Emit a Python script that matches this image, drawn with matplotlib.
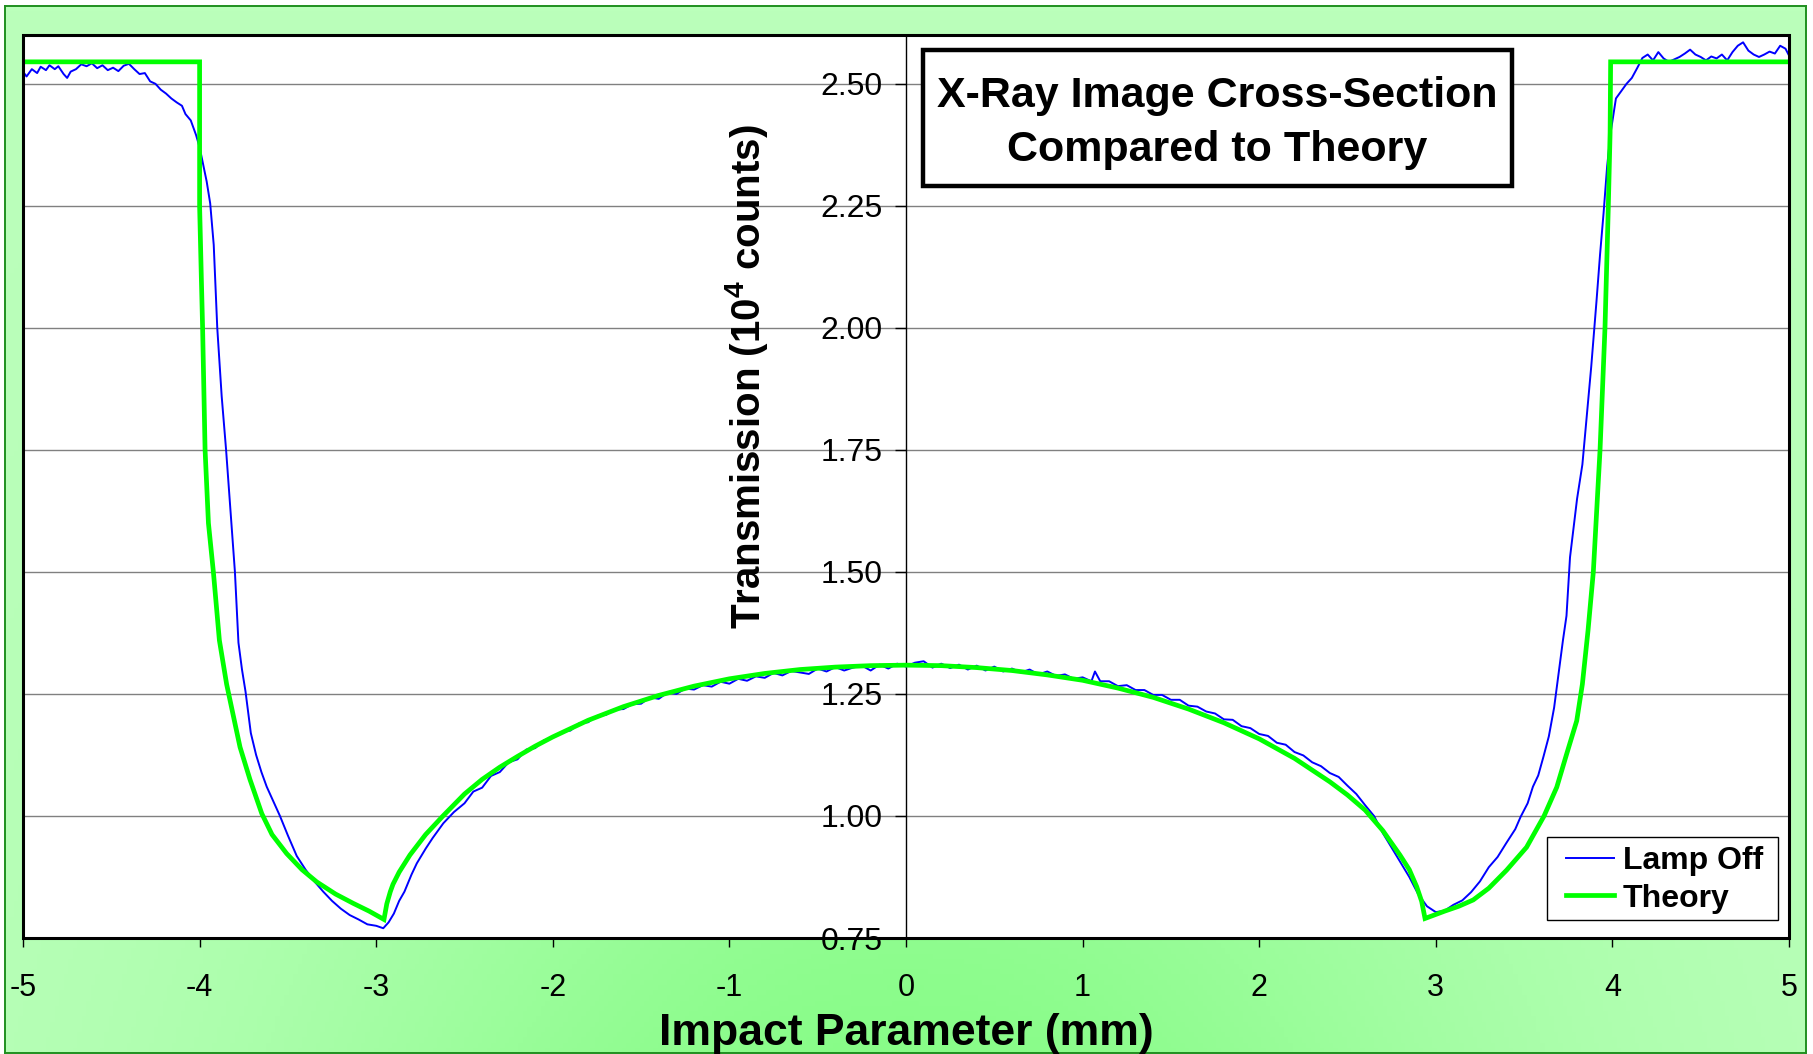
import numpy as np
import matplotlib
matplotlib.use("Agg")
import matplotlib.pyplot as plt
from matplotlib import font_manager
from matplotlib.font_manager import FontProperties
from matplotlib.patches import Rectangle

# --- data (mm, 10^4 counts) ---
lamp_x = [
    -5.00, -4.98, -4.95, -4.92, -4.90, -4.87, -4.85, -4.82, -4.80, -4.77,
    -4.75, -4.73, -4.70, -4.67, -4.64, -4.61, -4.58, -4.55, -4.52, -4.49,
    -4.46, -4.43, -4.40, -4.37, -4.34, -4.31, -4.28, -4.25, -4.22, -4.19,
    -4.16, -4.13, -4.10, -4.08, -4.05, -4.02, -4.00, -3.98, -3.96, -3.94,
    -3.92, -3.90, -3.875, -3.85, -3.82, -3.80, -3.78, -3.76, -3.74, -3.71,
    -3.68, -3.65, -3.62, -3.58, -3.545, -3.50, -3.45, -3.40, -3.35, -3.30,
    -3.25, -3.20, -3.15, -3.10, -3.05, -3.00, -2.96, -2.93, -2.90, -2.87,
    -2.84, -2.80, -2.77, -2.72, -2.68, -2.62, -2.56, -2.50, -2.45, -2.40,
    -2.35, -2.30, -2.25, -2.20, -2.15, -2.10, -2.05, -2.00, -1.95, -1.90,
    -1.85, -1.80, -1.75, -1.70, -1.65, -1.60, -1.55, -1.50, -1.45, -1.40,
    -1.35, -1.30, -1.25, -1.20, -1.15, -1.10, -1.05, -1.00, -0.95, -0.90,
    -0.85, -0.80, -0.75, -0.70, -0.65, -0.60, -0.55, -0.50, -0.45, -0.40,
    -0.35, -0.30, -0.25, -0.20, -0.15, -0.10, -0.05, 0.00, 0.05, 0.10,
    0.15, 0.20, 0.25, 0.30, 0.35, 0.40, 0.45, 0.50, 0.55, 0.60,
    0.65, 0.70, 0.75, 0.80, 0.85, 0.90, 0.95, 1.00, 1.05, 1.07,
    1.10, 1.15, 1.20, 1.25, 1.30, 1.35, 1.40, 1.45, 1.50, 1.55,
    1.60, 1.65, 1.70, 1.75, 1.80, 1.85, 1.90, 1.95, 2.00, 2.05,
    2.10, 2.15, 2.20, 2.25, 2.30, 2.35, 2.40, 2.45, 2.50, 2.55,
    2.60, 2.65, 2.70, 2.75, 2.80, 2.85, 2.90, 2.95, 3.00, 3.05,
    3.10, 3.15, 3.20, 3.25, 3.30, 3.35, 3.40, 3.45, 3.48, 3.52,
    3.55, 3.58, 3.61, 3.64, 3.67, 3.70, 3.72, 3.74, 3.76, 3.78,
    3.80, 3.83, 3.86, 3.88, 3.91, 3.93, 3.95, 3.97, 3.99, 4.02,
    4.05, 4.08, 4.11, 4.14, 4.17, 4.20, 4.23, 4.26, 4.29, 4.32,
    4.35, 4.38, 4.41, 4.44, 4.47, 4.50, 4.53, 4.56, 4.59, 4.62,
    4.65, 4.68, 4.71, 4.74, 4.77, 4.80, 4.83, 4.86, 4.89, 4.92,
    4.95, 4.98, 5.00,
]
lamp_y = [
    2.525, 2.515, 2.530, 2.522, 2.535, 2.528, 2.538, 2.530, 2.536, 2.520,
    2.512, 2.525, 2.530, 2.540, 2.536, 2.542, 2.532, 2.538, 2.528, 2.533,
    2.526, 2.537, 2.541, 2.530, 2.520, 2.522, 2.505, 2.500, 2.488, 2.480,
    2.470, 2.462, 2.455, 2.438, 2.425, 2.395, 2.370, 2.335, 2.300, 2.255,
    2.170, 2.000, 1.860, 1.750, 1.600, 1.500, 1.355, 1.300, 1.255, 1.170,
    1.125, 1.090, 1.060, 1.028, 1.000, 0.960, 0.918, 0.890, 0.866, 0.845,
    0.826, 0.810, 0.797, 0.788, 0.778, 0.775, 0.770, 0.782, 0.800, 0.826,
    0.845, 0.880, 0.903, 0.933, 0.955, 0.985, 1.008, 1.026, 1.050, 1.058,
    1.082, 1.090, 1.110, 1.116, 1.136, 1.139, 1.155, 1.160, 1.172, 1.175,
    1.190, 1.192, 1.205, 1.207, 1.218, 1.219, 1.229, 1.230, 1.243, 1.240,
    1.253, 1.250, 1.261, 1.259, 1.268, 1.265, 1.275, 1.271, 1.281, 1.277,
    1.286, 1.283, 1.293, 1.288, 1.297, 1.294, 1.291, 1.302, 1.296, 1.305,
    1.298, 1.304, 1.308, 1.298, 1.310, 1.302, 1.312, 1.306, 1.314, 1.317,
    1.304, 1.312, 1.303, 1.310, 1.300, 1.308, 1.298, 1.306, 1.296, 1.302,
    1.294, 1.300, 1.290, 1.296, 1.287, 1.290, 1.281, 1.284, 1.276, 1.296,
    1.276, 1.276, 1.266, 1.268, 1.258, 1.258, 1.248, 1.248, 1.238, 1.238,
    1.226, 1.224, 1.214, 1.210, 1.198, 1.197, 1.184, 1.180, 1.168, 1.164,
    1.150, 1.146, 1.131, 1.124, 1.110, 1.102, 1.088, 1.080, 1.062, 1.045,
    1.022, 1.000, 0.965, 0.935, 0.905, 0.875, 0.840, 0.815, 0.803, 0.806,
    0.818, 0.827, 0.844, 0.866, 0.895, 0.916, 0.945, 0.973, 0.998, 1.026,
    1.060, 1.083, 1.122, 1.163, 1.222, 1.305, 1.360, 1.410, 1.530, 1.590,
    1.650, 1.720, 1.840, 1.920, 2.055, 2.150, 2.235, 2.330, 2.400, 2.470,
    2.485, 2.500, 2.512, 2.532, 2.553, 2.560, 2.548, 2.565, 2.552, 2.545,
    2.550, 2.555, 2.562, 2.570, 2.560, 2.555, 2.548, 2.556, 2.552, 2.560,
    2.548, 2.565, 2.578, 2.585, 2.568, 2.560, 2.555, 2.560, 2.566, 2.562,
    2.578, 2.572, 2.558,
]

theory_x = [
    -5.00, -4.00, -4.00, -3.99, -3.983, -3.969, -3.950, -3.922, -3.888, -3.847,
    -3.80, -3.771, -3.715, -3.648, -3.59, -3.507, -3.42, -3.337, -3.23, -3.13,
    -3.04, -2.956, -2.94, -2.92, -2.905, -2.87, -2.809, -2.72, -2.622, -2.50,
    -2.40, -2.30, -2.20, -2.10, -2.00, -1.80, -1.60, -1.40, -1.20, -1.00,
    -0.80, -0.60, -0.40, -0.20, 0.00, 0.20, 0.40, 0.60, 0.80, 1.00,
    1.20, 1.40, 1.60, 1.80, 2.00, 2.20, 2.40, 2.50, 2.60, 2.70,
    2.797, 2.85, 2.892, 2.92, 2.939, 3.05, 3.13, 3.212, 3.30, 3.401,
    3.514, 3.613, 3.685, 3.741, 3.798, 3.83, 3.862, 3.892, 3.930, 3.958,
    3.977, 3.987, 3.99, 5.00,
]
theory_y = [
    2.545, 2.545, 2.250, 2.100, 2.000, 1.750, 1.600, 1.500, 1.360, 1.270,
    1.190, 1.141, 1.075, 1.005, 0.962, 0.923, 0.890, 0.865, 0.840, 0.821,
    0.805, 0.788, 0.820, 0.845, 0.860, 0.885, 0.920, 0.962, 1.000, 1.045,
    1.075, 1.100, 1.122, 1.143, 1.162, 1.196, 1.224, 1.247, 1.266, 1.281,
    1.292, 1.300, 1.305, 1.308, 1.309, 1.308, 1.304, 1.298, 1.289, 1.278,
    1.262, 1.243, 1.219, 1.191, 1.158, 1.118, 1.070, 1.043, 1.012, 0.970,
    0.920, 0.890, 0.855, 0.825, 0.790, 0.805, 0.815, 0.828, 0.852, 0.889,
    0.936, 1.000, 1.059, 1.127, 1.195, 1.270, 1.380, 1.500, 1.750, 2.000,
    2.250, 2.400, 2.545, 2.545,
]

x_ticks = [-5, -4, -3, -2, -1, 0, 1, 2, 3, 4, 5]
y_ticks = [0.75, 1.00, 1.25, 1.50, 1.75, 2.00, 2.25, 2.50]


def pick_font(*names):
    for name in names:
        try:
            font_manager.findfont(FontProperties(family=name), fallback_to_default=False)
            return name
        except ValueError:
            continue
    return "DejaVu Sans"


FONT = pick_font("Liberation Sans", "Arimo", "DejaVu Sans")
plt.rcParams["font.family"] = [FONT, "DejaVu Sans"]
plt.rcParams["axes.unicode_minus"] = False
plt.rcParams["mathtext.fontset"] = "custom"
plt.rcParams["mathtext.rm"] = FONT
plt.rcParams["mathtext.bf"] = FONT + ":bold"

W, H = 1813, 1054
fig = plt.figure(figsize=(W / 100, H / 100), dpi=100, facecolor="white")

# green gradient backdrop with a dark green border
bg = fig.add_axes([5 / W, 1 / H, 1801 / W, 1047 / H], zorder=-10)
gx = np.linspace(0, 1, 400)
gy = np.linspace(0, 1, 200)
GX, GY = np.meshgrid(gx, gy)
weight = np.exp(-((GX - 0.5) / 0.34) ** 2) * GY ** 1.3
light = np.array([187, 255, 187]) / 255
strong = np.array([136, 252, 136]) / 255
grad = light + (strong - light) * weight[..., None]
bg.imshow(grad, aspect="auto", extent=[0, 1, 0, 1], origin="upper")
bg.set_xticks([])
bg.set_yticks([])
for sp in bg.spines.values():
    sp.set_color("#1f8f1f")
    sp.set_linewidth(1.4)

ax = fig.add_axes([23 / W, (H - 938) / H, 1766 / W, 903 / H])
ax.set_facecolor("white")

ax.plot(lamp_x, lamp_y, color="#0000ff", lw=1.4, label="Lamp Off", zorder=3)
ax.plot(theory_x, theory_y, color="#00ff00", lw=3.4, label="Theory", zorder=4,
        solid_joinstyle="miter")

ax.set_xlim(-5, 5)
ax.set_ylim(0.75, 2.60)
ax.set_xticks(x_ticks)
ax.set_xticklabels([str(t) for t in x_ticks])
ax.set_yticks(y_ticks)
ax.set_yticklabels([f"{t:.2f}" for t in y_ticks])

ax.yaxis.grid(True, color="#808080", lw=1.0)
ax.set_axisbelow(True)

# value axis crosses at x = 0, plot-area frame drawn separately
ax.spines["left"].set_position(("data", 0))
ax.spines["left"].set_linewidth(1.0)
ax.spines["left"].set_color("black")
for side in ("top", "right", "bottom"):
    ax.spines[side].set_visible(False)
ax.add_patch(Rectangle((0, 0), 1, 1, transform=ax.transAxes, fill=False,
                       ec="black", lw=2.2, zorder=6, clip_on=False))

ax.tick_params(axis="x", direction="out", length=6.5, width=1.0, pad=19,
               labelsize=22, colors="black")
ax.tick_params(axis="y", direction="out", length=8, width=1.0, pad=9,
               labelsize=23, colors="black")

ax.set_xlabel("Impact Parameter (mm)", fontsize=32, fontweight="bold")
ax.xaxis.label.set_va("center")
ax.xaxis.set_label_coords(0.5, (938 - 1033) / 903)

ax.set_ylabel(r"Transmission (10$^{\mathbf{4}}$ counts)", fontsize=29,
              fontweight="bold")
ax.yaxis.label.set_va("center")
ax.yaxis.label.set_ha("center")
ax.yaxis.set_label_coords((746 - 23) / 1766, (938 - 377) / 903)

# title box
ax.add_patch(Rectangle((923 / W, 1 - 186 / H), 589 / W, 136 / H,
                       transform=fig.transFigure, fc="white", ec="black",
                       lw=3.2, zorder=7, clip_on=False))
ax.text(1217.5 / W, 1 - 95.5 / H, "X-Ray Image Cross-Section",
        transform=fig.transFigure, ha="center", va="center", fontsize=31,
        fontweight="bold", zorder=8)
ax.text(1217.5 / W, 1 - 149.5 / H, "Compared to Theory",
        transform=fig.transFigure, ha="center", va="center", fontsize=31,
        fontweight="bold", zorder=8)

# legend: frameless entries plus a plain box at the reference position
ax.add_patch(Rectangle((1547 / W, 1 - 920 / H), 231 / W, 83 / H,
                       transform=fig.transFigure, fc="white", ec="black",
                       lw=1.0, zorder=8, clip_on=False))
leg = ax.legend(loc="center left", bbox_to_anchor=(1566 / W, 1 - 880 / H),
                bbox_transform=fig.transFigure, borderaxespad=0, borderpad=0,
                frameon=False, prop={"size": 23, "weight": "bold"},
                handlelength=1.5, handletextpad=0.28, labelspacing=0.22)
leg.set_zorder(9)

fig.savefig("out.png", dpi=100, facecolor=fig.get_facecolor())
